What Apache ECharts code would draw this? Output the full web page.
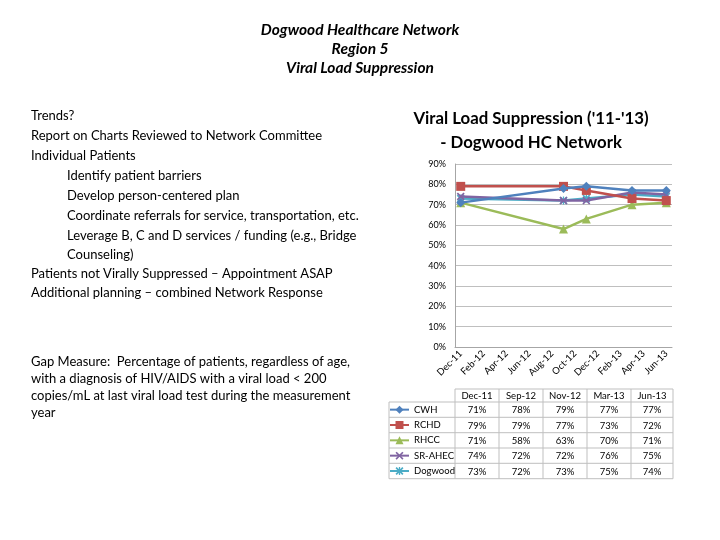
<!DOCTYPE html>
<html><head><meta charset="utf-8">
<script src="https://cdn.jsdelivr.net/npm/echarts@6/dist/echarts.min.js"></script>
<style>html,body{margin:0;padding:0;background:#fff}#c{width:720px;height:540px}</style>
</head><body><div id="c"></div>
<script>
// ---- data ----
const months = ['Dec-11','Jan-12','Feb-12','Mar-12','Apr-12','May-12','Jun-12','Jul-12','Aug-12','Sep-12','Oct-12','Nov-12','Dec-12','Jan-13','Feb-13','Mar-13','Apr-13','May-13','Jun-13'];
const dates = ['Dec-11','Sep-12','Nov-12','Mar-13','Jun-13'];
const seriesNames = ['CWH','RCHD','RHCC','SR-AHEC','Dogwood'];
const cwh = [71,78,79,77,77];
const rchd = [79,79,77,73,72];
const rhcc = [71,58,63,70,71];
const srahec = [74,72,72,76,75];
const dogwood = [73,72,73,75,74];

const leftLines = [
  ['Trends?',0,115],
  ['Report on Charts Reviewed to Network Committee',0,135],
  ['Individual Patients',0,155],
  ['Identify patient barriers',1,175],
  ['Develop person-centered plan',1,195],
  ['Coordinate referrals for service, transportation, etc.',1,215],
  ['Leverage B, C and D services / funding (e.g., Bridge',1,235],
  ['Counseling)',1,254],
  ['Patients not Virally Suppressed \u2013 Appointment ASAP',0,273],
  ['Additional planning \u2013 combined Network Response',0,292]
];
const gapLines = [
  'Gap Measure:  Percentage of patients, regardless of age,',
  'with a diagnosis of HIV/AIDS with a viral load < 200',
  'copies/mL at last viral load test during the measurement',
  'year'
];

// ---- styling ----
const values = [cwh, rchd, rhcc, srahec, dogwood];
const colors = ['#4F81BD','#C0504D','#9BBB59','#8064A2','#4BACC6'];
const xPath = 'M0,1.5L1.5,0L5,3.5L8.5,0L10,1.5L6.5,5L10,8.5L8.5,10L5,6.5L1.5,10L0,8.5L3.5,5Z';
const symbols = ['diamond','rect','triangle','path://'+xPath,'path://'+xPath+'M4.2,0L5.8,0L5.8,10L4.2,10Z'];
const symSizes = [9,9,9,8,8];
const FONT = 'Lato';

const chart = echarts.init(document.getElementById('c'), null, {renderer:'canvas'});

const graphics = [];
leftLines.forEach(([t, ind, y]) => {
  graphics.push({type:'text', left: ind ? 67 : 31, top: y - 6,
    style:{text:t, font:'13px '+FONT, fill:'#000'}});
});
gapLines.forEach((t, i) => {
  graphics.push({type:'text', left:31, top: 355 + i*17,
    style:{text:t, font:'13px '+FONT, fill:'#000'}});
});

// data table
const colX = [389, 455, 499, 543, 587, 631, 673];
const rowY = [389, 402, 417.3, 432.7, 448, 463.3, 478.7];
const lineStyle = {stroke:'#bfbfbf', lineWidth:1};
for (let r = 0; r < rowY.length; r++) {
  const x0 = r === 0 ? colX[1] : colX[0];
  graphics.push({type:'line', shape:{x1:x0, y1:rowY[r], x2:colX[colX.length-1], y2:rowY[r]}, style:lineStyle, silent:true});
}
for (let c = 0; c < colX.length; c++) {
  const y0 = c === 0 ? rowY[1] : rowY[0];
  graphics.push({type:'line', shape:{x1:colX[c], y1:y0, x2:colX[c], y2:rowY[rowY.length-1]}, style:lineStyle, silent:true});
}
dates.forEach((d, i) => {
  graphics.push({type:'text', x:(colX[i+1]+colX[i+2])/2, y:(rowY[0]+rowY[1])/2 + 0.5,
    style:{text:d, font:'9.5px '+FONT, fill:'#000', align:'center', verticalAlign:'middle'}});
});
values.forEach((arr, r) => {
  arr.forEach((v, i) => {
    graphics.push({type:'text', x:(colX[i+1]+colX[i+2])/2, y:(rowY[r+1]+rowY[r+2])/2 + 0.5,
      style:{text:v+'%', font:'9.5px '+FONT, fill:'#000', align:'center', verticalAlign:'middle'}});
  });
});

const option = {
  animation:false,
  backgroundColor:'#fff',
  title:[
    {text:'Dogwood Healthcare Network\nRegion 5\nViral Load Suppression', left:360, top:20, textAlign:'center', padding:0,
     textStyle:{fontFamily:FONT, fontSize:15.5, fontWeight:'bold', fontStyle:'italic', color:'#000', lineHeight:19}},
    {text:"Viral Load Suppression ('11-'13)\n- Dogwood HC Network", left:531, top:107, textAlign:'center', padding:0,
     textStyle:{fontFamily:FONT, fontSize:16.8, fontWeight:'bold', color:'#000', lineHeight:23.5}}
  ],
  legend: seriesNames.map((n, k) => ({
    orient:'vertical', left:389, top:(rowY[k+1]+rowY[k+2])/2 - 5, padding:0,
    itemWidth:19, itemHeight:10, data:[n], selectedMode:false,
    textStyle:{fontFamily:FONT, fontSize:9.5, color:'#000', lineHeight:10}
  })),
  grid:{left:455, right:48, top:164, bottom:193, containLabel:false},
  xAxis:{
    type:'category', data:months, boundaryGap:true,
    axisLine:{lineStyle:{color:'#a6a6a6'}},
    axisTick:{show:false},
    axisLabel:{interval:1, rotate:45, fontFamily:FONT, fontSize:9.5, color:'#000', margin:5}
  },
  yAxis:{
    type:'value', min:0, max:90, interval:10,
    axisLine:{show:true, lineStyle:{color:'#a6a6a6'}},
    axisTick:{show:false},
    splitLine:{lineStyle:{color:'#bfbfbf'}},
    axisLabel:{formatter:'{value}%', fontFamily:FONT, fontSize:9, color:'#000', margin:9}
  },
  series: seriesNames.map((n, k) => ({
    name:n, type:'line',
    data: dates.map((d, i) => [d, values[k][i]]),
    symbol: symbols[k], symbolSize: symSizes[k],
    showSymbol:true, showAllSymbol:true,
    lineStyle:{width:2.5, color:colors[k]},
    itemStyle:{color:colors[k]},
    z: 10 - k
  })),
  graphic: graphics
};
chart.setOption(option);
</script>
</body></html>
